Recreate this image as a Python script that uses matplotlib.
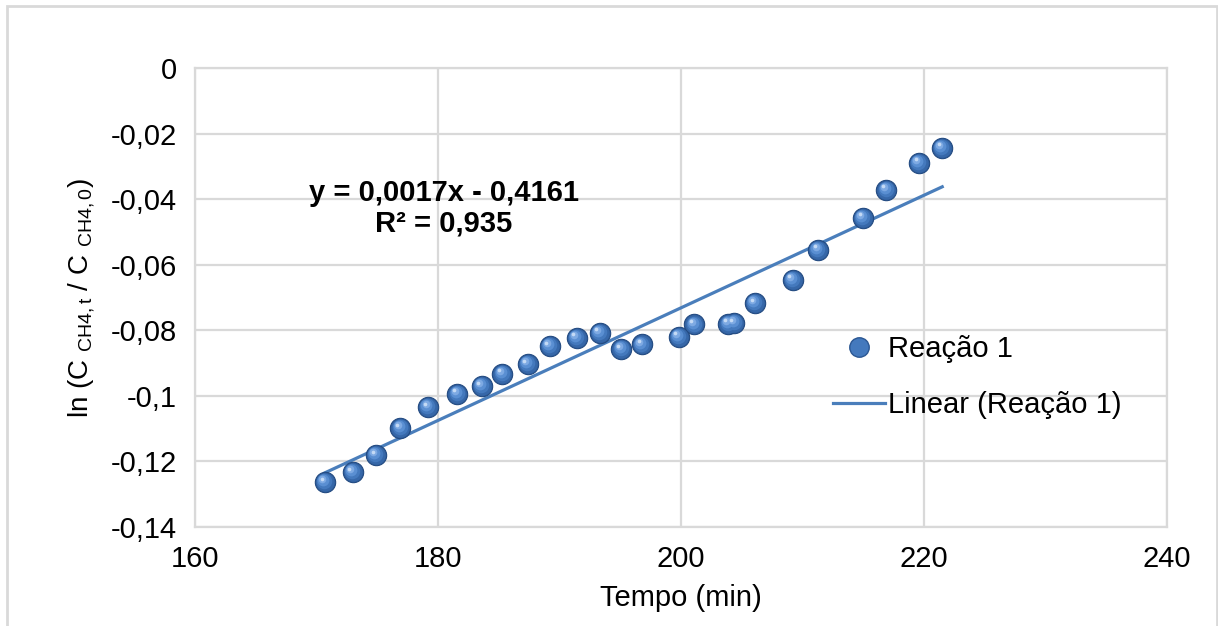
import numpy as np
import matplotlib

matplotlib.use("Agg")
from matplotlib import pyplot as plt
from matplotlib import transforms
from matplotlib.lines import Line2D
from matplotlib.patches import Rectangle

plt.rcParams["font.family"] = ["Liberation Sans", "DejaVu Sans"]
plt.rcParams["mathtext.fontset"] = "custom"
plt.rcParams["mathtext.rm"] = "Liberation Sans"
plt.rcParams["mathtext.it"] = "Liberation Sans"

# reaction time (min) and ln(C_t / C_0) for reaction 1
tempo = [170.7, 173.0, 174.9, 176.9, 179.2, 181.6, 183.6, 185.3, 187.4,
         189.2, 191.4, 193.3, 195.1, 196.8, 199.8, 201.1, 203.9, 204.4,
         206.1, 209.2, 211.3, 215.0, 216.9, 219.6, 221.5]
ln_c = [-0.1263, -0.1233, -0.1181, -0.1098, -0.1034, -0.0994, -0.0970,
        -0.0933, -0.0903, -0.0848, -0.0823, -0.0808, -0.0857, -0.0843,
        -0.0819, -0.0782, -0.0780, -0.0778, -0.0717, -0.0646, -0.0555,
        -0.0457, -0.0371, -0.0289, -0.0243]
x_ticks = [160, 180, 200, 220, 240]
y_ticks = [0, -0.02, -0.04, -0.06, -0.08, -0.1, -0.12, -0.14]
eq_text = "y = 0,0017x - 0,4161\nR² = 0,935"

grid_c = "#d9d9d9"
blue = "#4a7ebb"
fs = 21

fig = plt.figure(figsize=(12.18, 6.26), dpi=100)
ax = fig.add_axes([195 / 1218, 1 - 527 / 626, 972 / 1218, 459 / 626])

# outer chart frame
fig.patches.append(Rectangle((7 / 1218, -0.1), 1210 / 1218, 1.1 - 6 / 626,
                             transform=fig.transFigure, fill=False,
                             edgecolor=grid_c, linewidth=2))

x = np.array(tempo)
y = np.array(ln_c)

# linear trend line
coef = np.polyfit(x, y, 1)
xs = np.array([x.min(), x.max()])
ax.plot(xs, np.polyval(coef, xs), color=blue, linewidth=2.3, zorder=3)

# shaded sphere markers: dark base, lighter layers shifted up-left
ax.scatter(x, y, s=215, color="#2b5793", edgecolors="#234b82",
           linewidths=0.8, zorder=4)
layers = [(180, "#3667a8", 0.0), (125, "#4479bd", 0.6), (72, "#5a8fd2", 1.3),
          (30, "#7eaae3", 2.0), (7, "#c4daf5", 2.5)]
for s, c, d in layers:
    tr = transforms.offset_copy(ax.transData, fig=fig, x=-d, y=d, units="points")
    ax.scatter(x, y, s=s, color=c, linewidths=0, transform=tr, zorder=5)

ax.text(180.5, -0.0427, eq_text, ha="center", va="center", fontsize=fs,
        fontweight="bold", linespacing=1.12, zorder=6)

ax.set_xlim(160, 240)
ax.set_ylim(-0.14, 0)
ax.set_xticks(x_ticks)
ax.set_yticks(y_ticks)
ax.set_yticklabels(["0" if v == 0 else f"{v:g}".replace(".", ",") for v in y_ticks])
ax.tick_params(length=0, labelsize=fs, pad=13)
ax.grid(True, color=grid_c, linewidth=1.6)
ax.set_axisbelow(True)
for sp in ax.spines.values():
    sp.set_color(grid_c)
    sp.set_linewidth(1.6)

ax.set_xlabel("Tempo (min)", fontsize=fs, labelpad=8)
ax.set_ylabel(r"ln (C $_{\mathrm{CH4,t}}$ / C $_{\mathrm{CH4,0}}$)",
              fontsize=20, labelpad=10)

handles = [
    Line2D([], [], marker="o", linestyle="none", markersize=14,
           markerfacecolor="#4479bd", markeredgecolor="#2b5793"),
    Line2D([], [], color=blue, linewidth=2.3),
]
ax.legend(handles, ["Reação 1", "Linear (Reação 1)"], loc="center left",
          bbox_to_anchor=(0.656, 0.327), frameon=False, fontsize=fs,
          handlelength=1.8, handletextpad=0.1, labelspacing=0.95,
          borderpad=0, borderaxespad=0)

fig.savefig("out.png", dpi=100)
